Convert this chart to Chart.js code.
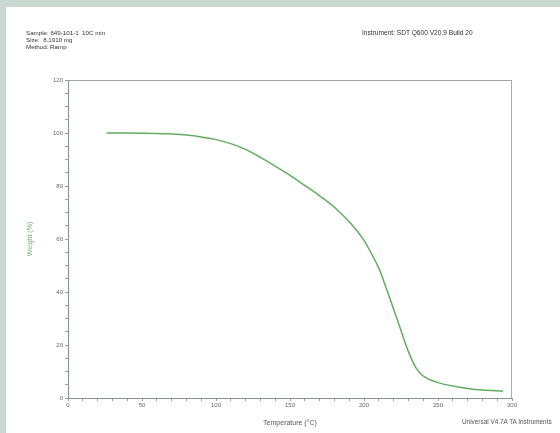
<!DOCTYPE html>
<html>
<head>
<meta charset="utf-8">
<script src="https://cdn.jsdelivr.net/npm/chart.js@4.4.1/dist/chart.umd.min.js"></script>
<style>
	body { margin: 0; background: #cad8d2; }
	#wrap { position: relative; width: 560px; height: 433px; overflow: hidden; }
	#panel { position: absolute; left: 6px; top: 7px; width: 554px; height: 426px; background: #fff; }
	#chart { position: absolute; left: 0; top: 0; }
	.txt { position: absolute; font-family: "Liberation Sans", Arial, sans-serif; font-size: 6.2px; color: #333; line-height: 7px; white-space: nowrap; }
</style>
</head>
<body>
<div id="wrap">
	<div id="panel"></div>
	<canvas id="chart" width="560" height="433"></canvas>
	<div class="txt" style="left:26px; top:29px;">Sample: 649-101-1&nbsp; 10C min<br>Size:&nbsp; 8.1910 mg<br>Method: Ramp</div>
	<div class="txt" style="left:362px; top:29px; font-size:6.6px;">Instrument: SDT Q600 V20.9 Build 20</div>
	<div class="txt" style="left:462px; top:418px; font-size:6.4px; color:#555;">Universal V4.7A TA Instruments</div>
</div>
<script>
// 온도(°C)와 무게(%) 데이터
let temps = [26, 40, 50, 60, 70, 80, 90, 100, 110, 120, 130, 140, 150, 160, 170, 180, 190, 200, 205, 210, 215, 220, 225, 230, 235, 240, 245, 250, 260, 270, 280, 294];
let weights = [100, 100, 99.95, 99.85, 99.6, 99.2, 98.5, 97.5, 96, 93.8, 90.8, 87.5, 84, 80.2, 76.3, 72, 66.5, 59.5, 54.5, 49, 41.5, 33.5, 25.5, 17.5, 11.5, 8.3, 6.8, 5.8, 4.5, 3.6, 3, 2.6];

let xTicks = [0, 50, 100, 150, 200, 250, 300];
let yTicks = [0, 20, 40, 60, 80, 100, 120];

let points = temps.map(function(t, i) {
	return { x: t, y: weights[i] };
});

new Chart(document.getElementById('chart'), {
	type: 'line',
	data: {
		datasets: [{
			data: points,
			borderColor: '#62ad62',
			borderWidth: 1.5,
			pointRadius: 0,
			cubicInterpolationMode: 'monotone'
		}]
	},
	options: {
		responsive: false,
		animation: false,
		layout: { padding: { top: 80, right: 48, left: 0, bottom: 0 } },
		plugins: { legend: { display: false }, tooltip: { enabled: false } },
		scales: {
			x: {
				type: 'linear',
				min: 0,
				max: 300,
				afterFit: function(scale) { scale.height = 35; },
				afterBuildTicks: function(scale) {
					let t = [];
					for (let v = 0; v <= 300; v += 10) t.push({ value: v });
					scale.ticks = t;
				},
				ticks: {
					autoSkip: false,
					maxRotation: 0,
					padding: 1,
					color: '#666',
					font: { family: 'Liberation Sans', size: 6 },
					callback: function(v) { return xTicks.indexOf(v) >= 0 ? String(v) : ''; }
				},
				grid: { drawOnChartArea: false, tickLength: 3, color: '#999' },
				border: { color: '#8a958a', width: 1 },
				title: {
					display: true,
					text: 'Temperature (°C)',
					color: '#555',
					font: { family: 'Liberation Sans', size: 7 },
					padding: { top: 0, bottom: 6 }
				}
			},
			y: {
				min: 0,
				max: 120,
				afterFit: function(scale) { scale.width = 68; },
				afterBuildTicks: function(scale) {
					let t = [];
					for (let v = 0; v <= 120; v += 5) t.push({ value: v });
					scale.ticks = t;
				},
				ticks: {
					autoSkip: false,
					padding: 2,
					color: '#666',
					font: { family: 'Liberation Sans', size: 6 },
					callback: function(v) { return yTicks.indexOf(v) >= 0 ? String(v) : ''; }
				},
				grid: { drawOnChartArea: false, tickLength: 3, color: '#999' },
				border: { color: '#7f9a80', width: 1 },
				title: {
					display: true,
					text: 'Weight (%)',
					color: '#6fb36f',
					font: { family: 'Liberation Sans', size: 7 },
					padding: { top: 26, bottom: 0 }
				}
			}
		}
	},
	plugins: [{
		id: 'frame',
		afterDraw: function(chart) {
			let a = chart.chartArea, c = chart.ctx;
			c.save();
			c.strokeStyle = '#a5a5a5';
			c.lineWidth = 1;
			c.beginPath();
			c.moveTo(a.left, a.top + 0.5);
			c.lineTo(a.right - 0.5, a.top + 0.5);
			c.stroke();
			c.strokeStyle = '#8fbf8f';
			c.beginPath();
			c.moveTo(a.right - 0.5, a.top);
			c.lineTo(a.right - 0.5, a.bottom);
			c.stroke();
			c.restore();
		}
	}]
});
</script>
</body>
</html>
